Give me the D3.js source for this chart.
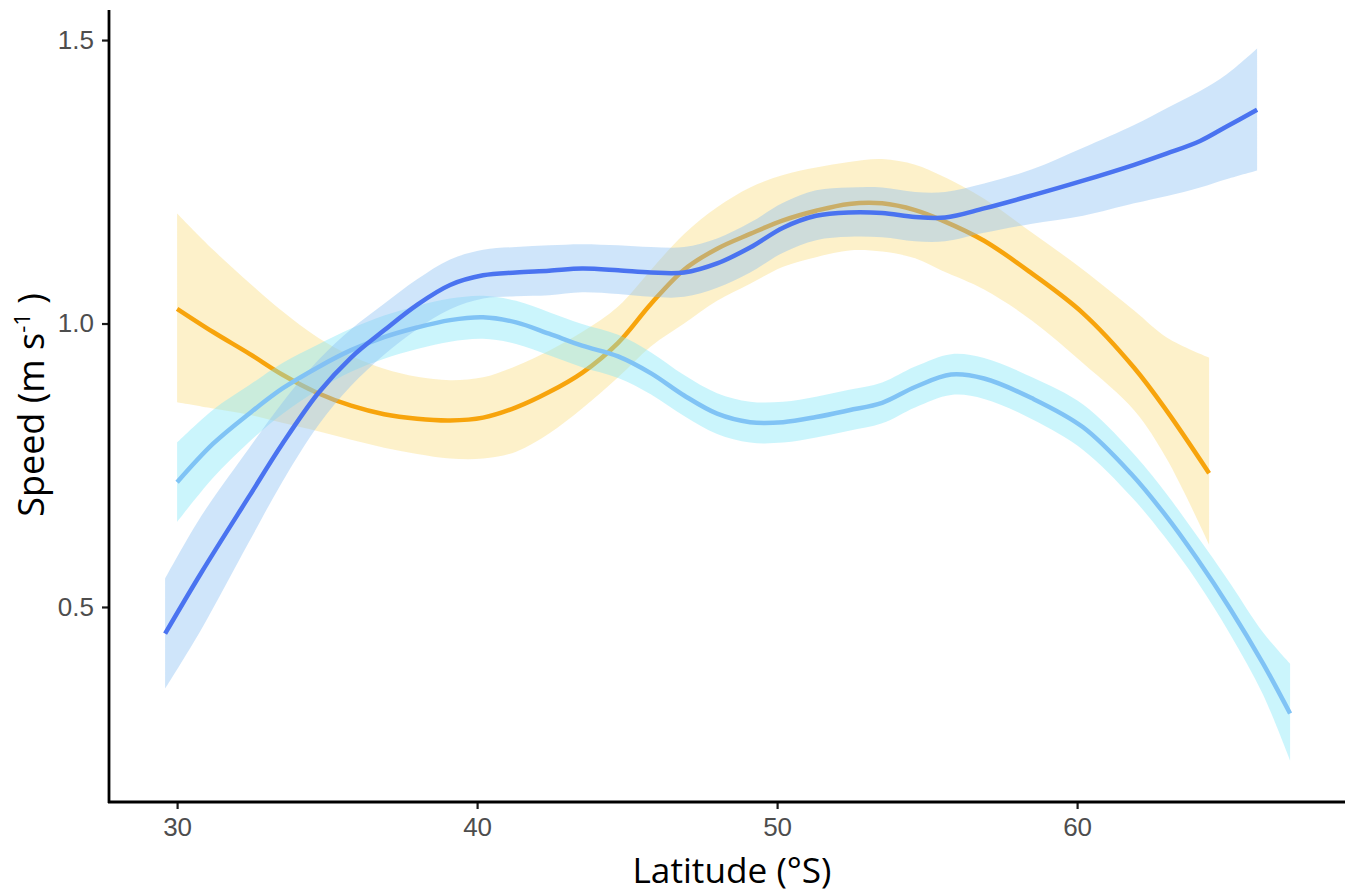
<!DOCTYPE html>
<html>
<head>
<meta charset="utf-8">
<script src="https://cdn.jsdelivr.net/npm/d3@7"></script>
<style>
  body { margin: 0; background: #fff; }
  .tick text { font-family: "Liberation Sans", Arial, sans-serif; font-size: 26px; fill: #4d4d4d; }
  .axis-title { font-family: "Open Sans", "Noto Sans", sans-serif; fill: #000; }
</style>
</head>
<body>
<svg class="SmoothChart" width="1352" height="895"></svg>
<script>
// ---- data ----
var xTicks = [30, 40, 50, 60];
var yTicks = [0.5, 1.0, 1.5];

// dark blue group
var latDark   = [29.6, 30.8, 32.4, 33.5, 34.7, 35.8, 36.9, 38.0, 39.1, 40.2, 41.3, 42.4, 43.5, 44.7, 45.8, 46.9, 48.0, 49.1, 50.2, 51.3, 52.4, 53.5, 54.6, 55.6, 56.9, 58.5, 60.2, 61.9, 63.0, 64.1, 65.0, 66.0];
var fitDark   = [0.453, 0.56, 0.695, 0.787, 0.877, 0.94, 0.988, 1.033, 1.068, 1.085, 1.09, 1.093, 1.097, 1.094, 1.09, 1.09, 1.106, 1.134, 1.169, 1.19, 1.196, 1.195, 1.188, 1.187, 1.203, 1.226, 1.252, 1.28, 1.30, 1.322, 1.348, 1.377];
var lowDark   = [0.356, 0.46, 0.615, 0.72, 0.82, 0.89, 0.945, 0.99, 1.025, 1.044, 1.048, 1.05, 1.055, 1.052, 1.047, 1.047, 1.063, 1.09, 1.125, 1.147, 1.153, 1.152, 1.145, 1.145, 1.16, 1.176, 1.19, 1.212, 1.225, 1.24, 1.255, 1.27];
var highDark  = [0.55, 0.66, 0.78, 0.86, 0.935, 0.99, 1.035, 1.078, 1.113, 1.13, 1.135, 1.138, 1.14, 1.138, 1.135, 1.135, 1.15, 1.178, 1.213, 1.235, 1.24, 1.24, 1.232, 1.232, 1.247, 1.272, 1.31, 1.35, 1.38, 1.41, 1.44, 1.485];

// light blue group
var latLight  = [30.0, 31.2, 32.4, 33.5, 34.7, 35.8, 36.9, 38.0, 39.1, 40.2, 41.3, 42.4, 43.5, 44.7, 45.8, 46.9, 48.0, 49.1, 50.2, 51.3, 52.4, 53.5, 54.6, 55.8, 56.9, 58.5, 60.2, 61.8, 62.9, 64.0, 65.1, 66.2, 67.1];
var fitLight  = [0.72, 0.788, 0.841, 0.885, 0.923, 0.953, 0.976, 0.993, 1.006, 1.011, 1.002, 0.982, 0.961, 0.942, 0.912, 0.873, 0.841, 0.826, 0.826, 0.835, 0.847, 0.86, 0.888, 0.91, 0.903, 0.868, 0.817, 0.735, 0.665, 0.585, 0.497, 0.40, 0.312];
var lowLight  = [0.65, 0.728, 0.791, 0.84, 0.883, 0.915, 0.938, 0.955, 0.968, 0.973, 0.964, 0.944, 0.923, 0.904, 0.875, 0.837, 0.805, 0.79, 0.79, 0.799, 0.811, 0.824, 0.852, 0.874, 0.867, 0.831, 0.777, 0.695, 0.625, 0.545, 0.452, 0.345, 0.229];
var highLight = [0.79, 0.848, 0.891, 0.93, 0.963, 0.991, 1.014, 1.031, 1.044, 1.049, 1.04, 1.02, 0.999, 0.98, 0.949, 0.909, 0.877, 0.862, 0.862, 0.871, 0.883, 0.896, 0.924, 0.946, 0.939, 0.905, 0.857, 0.775, 0.705, 0.625, 0.542, 0.455, 0.40];

// orange group
var latOrange  = [30.0, 31.2, 32.4, 33.5, 34.7, 35.8, 36.9, 38.0, 39.1, 40.2, 41.3, 42.4, 43.5, 44.7, 45.8, 46.9, 48.0, 49.1, 50.2, 51.3, 52.4, 53.5, 54.6, 55.5, 56.9, 58.5, 60.2, 61.9, 63.0, 64.4];
var fitOrange  = [1.026, 0.985, 0.947, 0.91, 0.877, 0.855, 0.84, 0.832, 0.829, 0.834, 0.852, 0.879, 0.913, 0.966, 1.035, 1.095, 1.132, 1.158, 1.182, 1.199, 1.211, 1.212, 1.2, 1.182, 1.146, 1.088, 1.018, 0.922, 0.845, 0.736];
var lowOrange  = [0.861, 0.85, 0.839, 0.825, 0.81, 0.795, 0.781, 0.77, 0.762, 0.762, 0.774, 0.806, 0.85, 0.905, 0.96, 1.0, 1.04, 1.07, 1.1, 1.117, 1.129, 1.127, 1.115, 1.093, 1.06, 1.005, 0.93, 0.847, 0.76, 0.61];
var highOrange = [1.194, 1.13, 1.072, 1.022, 0.975, 0.943, 0.92, 0.906, 0.9, 0.905, 0.925, 0.952, 0.985, 1.03, 1.095, 1.158, 1.205, 1.24, 1.262, 1.275, 1.285, 1.29, 1.28, 1.26, 1.22, 1.16, 1.095, 1.023, 0.975, 0.94];

// ---- chart ----
var meta = {};
meta.left = 109; meta.right = 1345; meta.top = 10; meta.bottom = 802;

var svg = d3.select(".SmoothChart");

const xScale = d3.scaleLinear().domain([27.73, 68.93]).range([meta.left, meta.right]);
const yScale = d3.scaleLinear().domain([0.156, 1.553]).range([meta.bottom, meta.top]);

function rows(lat, fit, lo, hi) {
    return lat.map((d, i) => ({ lat: d, fit: fit[i], lo: lo[i], hi: hi[i] }));
}

var groups = [
    { data: rows(latOrange, fitOrange, lowOrange, highOrange), line: "#f7a40c", band: "#f9dc7a" },
    { data: rows(latLight, fitLight, lowLight, highLight), line: "#80c3f5", band: "#7ee7f8" },
    { data: rows(latDark, fitDark, lowDark, highDark), line: "#4a73f0", band: "#86bff2" }
];

var area = d3.area()
    .x(d => xScale(d.lat))
    .y0(d => yScale(d.lo))
    .y1(d => yScale(d.hi))
    .curve(d3.curveCatmullRom);

var line = d3.line()
    .x(d => xScale(d.lat))
    .y(d => yScale(d.fit))
    .curve(d3.curveCatmullRom);

var plot = svg.append('g').attr('class', 'holder');

groups.forEach(g => {
    plot.append('path')
        .datum(g.data)
        .attr('d', area)
        .attr('fill', g.band)
        .attr('fill-opacity', 0.4);
    plot.append('path')
        .datum(g.data)
        .attr('d', line)
        .attr('fill', 'none')
        .attr('stroke', g.line)
        .attr('stroke-width', 4.5);
});

// axes
var xAxis = svg.append('g')
    .attr('transform', `translate(0, ${meta.bottom})`)
    .call(d3.axisBottom(xScale).tickValues(xTicks).tickSize(7).tickPadding(9).tickFormat(d3.format('d')));
var yAxis = svg.append('g')
    .attr('transform', `translate(${meta.left}, 0)`)
    .call(d3.axisLeft(yScale).tickValues(yTicks).tickSize(7).tickPadding(8).tickFormat(d3.format('.1f')));

[xAxis, yAxis].forEach(a => {
    a.select('.domain').remove();
    a.selectAll('.tick line').attr('stroke', '#1a1a1a').attr('stroke-width', 2.2);
});

svg.append('line')
    .attr('x1', meta.left).attr('x2', meta.left)
    .attr('y1', meta.top).attr('y2', meta.bottom + 1)
    .attr('stroke', '#000').attr('stroke-width', 2.8);
svg.append('line')
    .attr('x1', meta.left - 1).attr('x2', meta.right)
    .attr('y1', meta.bottom).attr('y2', meta.bottom)
    .attr('stroke', '#000').attr('stroke-width', 2.8);

// axis titles
svg.append('text')
    .attr('class', 'axis-title')
    .attr('x', 732)
    .attr('y', 883)
    .attr('text-anchor', 'middle')
    .attr('font-size', 35)
    .attr('textLength', 199)
    .attr('lengthAdjust', 'spacingAndGlyphs')
    .text("Latitude (°S)");

var yTitle = svg.append('text')
    .attr('class', 'axis-title')
    .attr('transform', 'translate(44, 405) rotate(-90)')
    .attr('text-anchor', 'middle')
    .attr('font-size', 36);
yTitle.append('tspan').text("Speed (m s");
yTitle.append('tspan').attr('font-size', 22).attr('dy', -14).text("-1");
yTitle.append('tspan').attr('dy', 14).text(" )");
</script>
</body>
</html>
